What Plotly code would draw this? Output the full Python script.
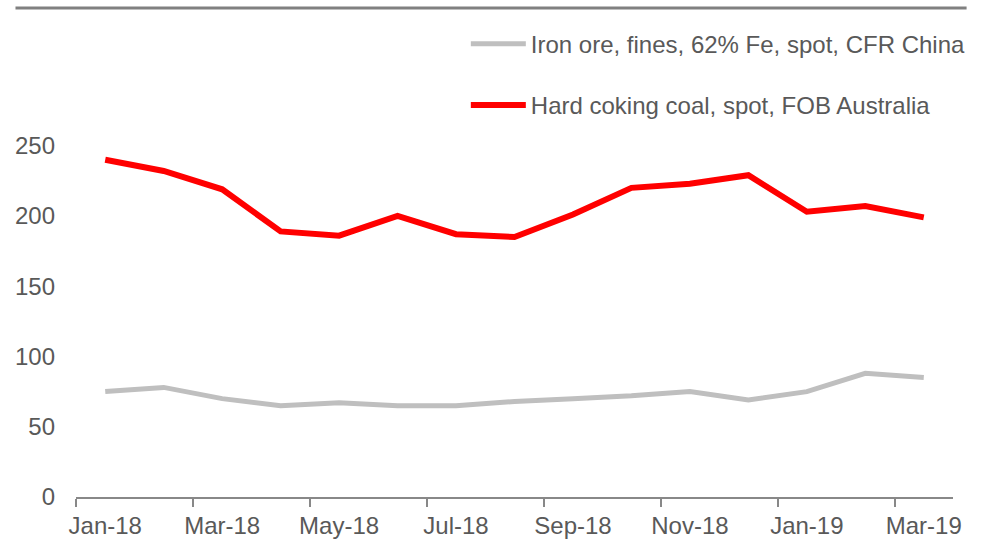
import plotly.graph_objects as go

months = ["Jan-18", "Feb-18", "Mar-18", "Apr-18", "May-18", "Jun-18", "Jul-18", "Aug-18",
          "Sep-18", "Oct-18", "Nov-18", "Dec-18", "Jan-19", "Feb-19", "Mar-19"]
iron_ore = [75, 78, 70, 65, 67, 65, 65, 68, 70, 72, 75, 69, 75, 88, 85]
coking_coal = [240, 232, 219, 189, 186, 200, 187, 185, 201, 220, 223, 229, 203, 207, 199]
y_ticks = [0, 50, 100, 150, 200, 250]

x = list(range(len(months)))
label_idx = x[::2]

fig = go.Figure()
fig.add_trace(go.Scatter(x=x, y=iron_ore, mode="lines", name="Iron ore, fines, 62% Fe, spot, CFR China",
                         line=dict(color="#BFBFBF", width=5), legendgroup="a"))
fig.add_trace(go.Scatter(x=x, y=coking_coal, mode="lines", name="Hard coking coal, spot, FOB Australia",
                         line=dict(color="#FF0000", width=6), legendgroup="b"))

fig.update_layout(
    width=984, height=542,
    margin=dict(l=76, r=31, t=8, b=45),
    paper_bgcolor="white", plot_bgcolor="white",
    font=dict(family="Liberation Sans, Arial, sans-serif", size=24, color="#595959"),
    showlegend=True,
    legend=dict(x=0.4445, y=0.972, xanchor="left", yanchor="top", traceorder="grouped",
                tracegroupgap=27, itemwidth=55, font=dict(size=24, color="#595959"),
                bgcolor="rgba(0,0,0,0)"),
    xaxis=dict(range=[-0.5, 14.5], tickvals=label_idx, ticktext=[months[i] for i in label_idx],
               ticks="", showgrid=False, zeroline=False, showline=True, linecolor="#888888",
               linewidth=1.5, ticklabelstandoff=6, automargin=False,
               minor=dict(tickvals=[i - 0.5 for i in label_idx], ticks="outside", ticklen=8,
                          tickcolor="#888888", tickwidth=1.5, showgrid=False)),
    yaxis=dict(range=[0, 348], tickvals=y_ticks, showgrid=False, zeroline=False, showline=False,
               ticks="", ticklabelstandoff=20, automargin=False),
    shapes=[dict(type="line", xref="paper", yref="paper", x0=-0.069, x1=1.0155, y0=1, y1=1,
                 line=dict(color="#808080", width=3))],
)

fig.write_html("out.html", config={"displayModeBar": False},
               post_script="document.body.style.margin='0';")
